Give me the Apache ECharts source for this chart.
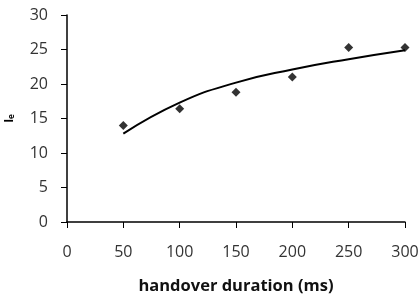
<!DOCTYPE html>
<html>
<head>
<meta charset="utf-8">
<script src="https://cdn.jsdelivr.net/npm/echarts@6/dist/echarts.min.js"></script>
<style>
  html, body { margin: 0; padding: 0; background: #fff; }
  #chart { width: 420px; height: 296px; }
</style>
</head>
<body>
<div id="chart"></div>
<script>
// measured points
const durations = [50, 100, 150, 200, 250, 300]
const ieValues = [14.0, 16.4, 18.8, 21.0, 25.3, 25.3]
// trend line
const trendValues = [12.8, 17.3, 20.2, 22.1, 23.6, 24.9]

const font = 'Open Sans'
const chart = echarts.init(document.getElementById('chart'))

chart.setOption({
  animation: false,
  grid: { left: 67, right: 15, top: 15, bottom: 74, outerBoundsMode: 'none' },
  xAxis: {
    type: 'value',
    min: 0,
    max: 300,
    interval: 50,
    name: 'handover duration (ms)',
    nameLocation: 'middle',
    nameGap: 56,
    nameTextStyle: { fontFamily: font, fontSize: 16.5, fontWeight: 'bold', color: '#111' },
    axisLine: { lineStyle: { color: '#000', width: 1.5 } },
    axisTick: { length: 6, lineStyle: { color: '#000', width: 1 } },
    axisLabel: { fontFamily: font, fontSize: 16, color: '#333', margin: 22 },
    splitLine: { show: false }
  },
  yAxis: {
    type: 'value',
    min: 0,
    max: 30,
    interval: 5,
    name: '{i|I}{e|e}',
    nameLocation: 'middle',
    nameGap: 51,
    nameRotate: 90,
    nameTextStyle: {
      rich: {
        i: { fontFamily: font, fontSize: 12, fontWeight: 'bold', color: '#000' },
        e: { fontFamily: font, fontSize: 8, fontWeight: 'bold', color: '#000', verticalAlign: 'bottom', padding: [5, 0, 0, 0] }
      }
    },
    axisLine: { show: true, lineStyle: { color: '#000', width: 1.5 } },
    axisTick: { show: true, length: 6, lineStyle: { color: '#000', width: 1 } },
    axisLabel: { fontFamily: font, fontSize: 16, color: '#333', margin: 19 },
    splitLine: { show: false }
  },
  series: [
    {
      type: 'line',
      data: durations.map((d, i) => [d, trendValues[i]]),
      smooth: true,
      symbol: 'none',
      lineStyle: { color: '#000', width: 2 },
      z: 2
    },
    {
      type: 'scatter',
      data: durations.map((d, i) => [d, ieValues[i]]),
      symbol: 'diamond',
      symbolSize: 9,
      itemStyle: { color: '#000' },
      z: 3
    }
  ]
})
</script>
</body>
</html>
